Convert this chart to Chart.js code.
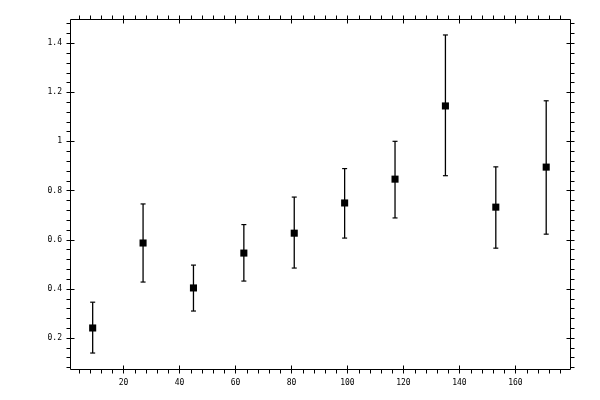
<!DOCTYPE html>
<html>
<head>
<meta charset="utf-8">
<script src="https://cdn.jsdelivr.net/npm/chart.js@4.4.1/dist/chart.umd.min.js"></script>
<style>
  body { margin: 0; background: #fff; }
  canvas { display: block; }
</style>
</head>
<body>
<canvas id="grafico" width="600" height="400"></canvas>
<script>
// valores
const xVals = [9, 27, 45, 63, 81, 99, 117, 135, 153, 171];
const yVals = [0.24, 0.586, 0.403, 0.545, 0.626, 0.749, 0.846, 1.144, 0.732, 0.895];
const yLo = [0.138, 0.427, 0.309, 0.431, 0.484, 0.606, 0.688, 0.86, 0.565, 0.622];
const yHi = [0.345, 0.745, 0.496, 0.661, 0.773, 0.889, 1.0, 1.433, 0.896, 1.165];

const xTicks = [20, 40, 60, 80, 100, 120, 140, 160];
const yTicks = [0.2, 0.4, 0.6, 0.8, 1, 1.2, 1.4];
const xMinorStep = 4;
const yMinorStep = 0.04;

const puntos = xVals.map((x, i) => ({ x: x, y: yVals[i] }));

// una serie por barra de error, con remates tipo 'line'
const barras = xVals.map((x, i) => ({
  data: [{ x: x, y: yLo[i] }, { x: x, y: yHi[i] }],
  showLine: true,
  borderColor: '#000',
  borderWidth: 1.3,
  pointStyle: 'line',
  pointRadius: 2.5,
  pointBorderWidth: 1.2,
  pointBorderColor: '#000',
  order: 1
}));

// marco y marcas de los cuatro lados
const marco = {
  id: 'marco',
  afterDraw(chart) {
    const ctx = chart.ctx;
    const a = chart.chartArea;
    const xs = chart.scales.x, ys = chart.scales.y;
    const L = Math.round(a.left) + 0.5, R = Math.round(a.right) + 0.5;
    const T = Math.round(a.top) + 0.5, B = Math.round(a.bottom) + 0.5;
    ctx.save();
    ctx.strokeStyle = '#000';
    ctx.lineWidth = 1;
    ctx.beginPath();
    ctx.rect(L, T, R - L, B - T);

    for (let v = Math.ceil(xs.min / xMinorStep) * xMinorStep; v <= xs.max; v += xMinorStep) {
      const p = Math.round(xs.getPixelForValue(v)) + 0.5;
      if (xTicks.includes(v)) {
        ctx.moveTo(p, B - 4); ctx.lineTo(p, B + 4);
        ctx.moveTo(p, T - 4); ctx.lineTo(p, T + 4);
      } else {
        ctx.moveTo(p, B); ctx.lineTo(p, B + 4);
        ctx.moveTo(p, T); ctx.lineTo(p, T - 4);
      }
    }
    const n0 = Math.ceil(ys.min / yMinorStep);
    for (let k = n0; k * yMinorStep <= ys.max; k++) {
      const v = Math.round(k * yMinorStep * 100) / 100;
      const p = Math.round(ys.getPixelForValue(v)) + 0.5;
      if (yTicks.some(t => Math.abs(t - v) < 1e-6)) {
        ctx.moveTo(L - 4, p); ctx.lineTo(L + 4, p);
        ctx.moveTo(R - 4, p); ctx.lineTo(R + 4, p);
      } else {
        ctx.moveTo(L, p); ctx.lineTo(L - 4, p);
        ctx.moveTo(R, p); ctx.lineTo(R + 4, p);
      }
    }
    ctx.stroke();
    ctx.restore();
  }
};

const fuente = { family: 'DejaVu Sans Mono', size: 8 };

new Chart(document.getElementById('grafico').getContext('2d'), {
  type: 'scatter',
  data: {
    datasets: [{
      data: puntos,
      pointStyle: 'rect',
      pointRadius: 5,
      pointBorderWidth: 0,
      backgroundColor: '#000',
      borderColor: '#000',
      order: 0
    }].concat(barras)
  },
  options: {
    responsive: false,
    devicePixelRatio: 1,
    animation: false,
    layout: { padding: { top: 19, right: 30, left: 0, bottom: 0 } },
    plugins: { legend: { display: false }, tooltip: { enabled: false } },
    scales: {
      x: {
        type: 'linear',
        min: 0.9,
        max: 179.5,
        grid: { display: false },
        border: { display: false },
        afterBuildTicks: s => { s.ticks = xTicks.map(v => ({ value: v })); },
        afterFit: s => { s.height = 31; },
        ticks: { color: '#000', font: fuente, padding: 1, maxRotation: 0,
          callback: v => String(v) }
      },
      y: {
        type: 'linear',
        min: 0.073,
        max: 1.498,
        grid: { display: false },
        border: { display: false },
        afterBuildTicks: s => { s.ticks = yTicks.map(v => ({ value: v })); },
        afterFit: s => { s.width = 70; },
        ticks: { color: '#000', font: fuente, padding: 0,
          callback: v => String(Math.round(v * 10) / 10) }
      }
    }
  },
  plugins: [marco]
});
</script>
</body>
</html>
